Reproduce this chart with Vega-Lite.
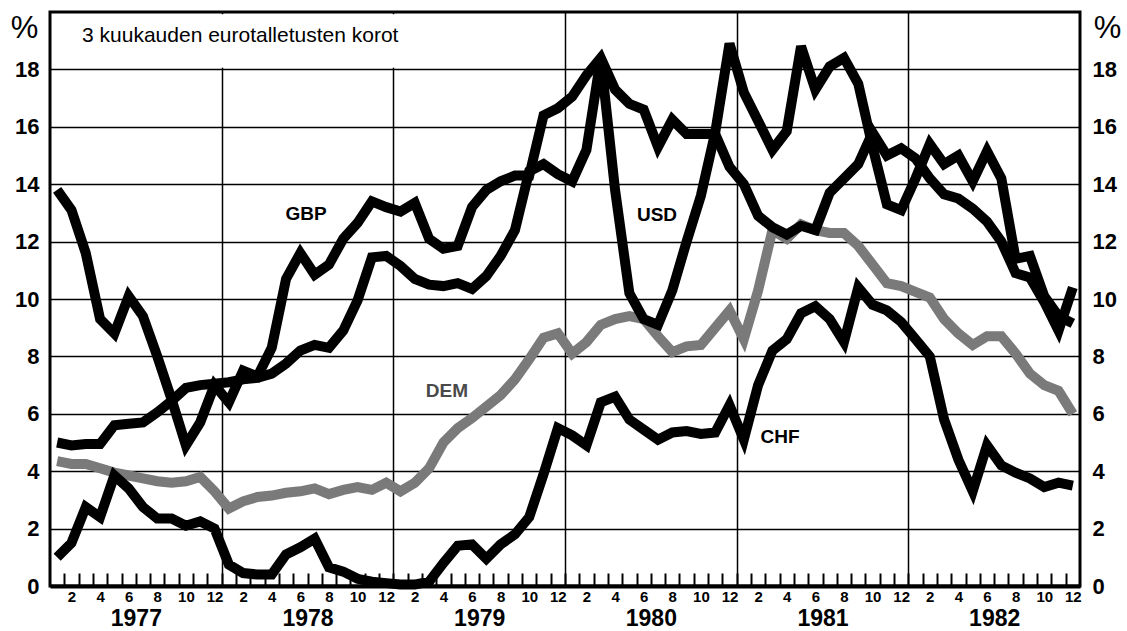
{
  "$schema": "https://vega.github.io/schema/vega-lite/v6.json",
  "autosize": {"type": "none"},
  "padding": {"left": 50, "top": 12, "right": 47, "bottom": 45},
  "width": 1030,
  "height": 574,
  "background": "white",
  "datasets": {
    "rates": [
      {"m":1,"USD":5.0,"GBP":13.8,"DEM":4.35,"CHF":1.0},
      {"m":2,"USD":4.9,"GBP":13.1,"DEM":4.25,"CHF":1.5},
      {"m":3,"USD":4.95,"GBP":11.6,"DEM":4.25,"CHF":2.75},
      {"m":4,"USD":4.95,"GBP":9.3,"DEM":4.1,"CHF":2.4},
      {"m":5,"USD":5.6,"GBP":8.8,"DEM":3.95,"CHF":3.85},
      {"m":6,"USD":5.65,"GBP":10.1,"DEM":3.85,"CHF":3.4},
      {"m":7,"USD":5.7,"GBP":9.4,"DEM":3.75,"CHF":2.75},
      {"m":8,"USD":6.05,"GBP":8.0,"DEM":3.65,"CHF":2.35},
      {"m":9,"USD":6.45,"GBP":6.5,"DEM":3.6,"CHF":2.35},
      {"m":10,"USD":6.9,"GBP":4.9,"DEM":3.65,"CHF":2.1},
      {"m":11,"USD":7.0,"GBP":5.7,"DEM":3.8,"CHF":2.25},
      {"m":12,"USD":7.05,"GBP":7.0,"DEM":3.3,"CHF":2.0},
      {"m":13,"USD":7.1,"GBP":6.4,"DEM":2.7,"CHF":0.75},
      {"m":14,"USD":7.2,"GBP":7.5,"DEM":2.95,"CHF":0.45},
      {"m":15,"USD":7.25,"GBP":7.3,"DEM":3.1,"CHF":0.4},
      {"m":16,"USD":7.4,"GBP":8.3,"DEM":3.15,"CHF":0.4},
      {"m":17,"USD":7.75,"GBP":10.7,"DEM":3.25,"CHF":1.1},
      {"m":18,"USD":8.2,"GBP":11.6,"DEM":3.3,"CHF":1.35},
      {"m":19,"USD":8.4,"GBP":10.85,"DEM":3.4,"CHF":1.65},
      {"m":20,"USD":8.3,"GBP":11.2,"DEM":3.2,"CHF":0.65},
      {"m":21,"USD":8.9,"GBP":12.1,"DEM":3.35,"CHF":0.5},
      {"m":22,"USD":9.95,"GBP":12.65,"DEM":3.45,"CHF":0.25},
      {"m":23,"USD":11.45,"GBP":13.4,"DEM":3.35,"CHF":0.15},
      {"m":24,"USD":11.5,"GBP":13.2,"DEM":3.6,"CHF":0.1},
      {"m":25,"USD":11.15,"GBP":13.05,"DEM":3.3,"CHF":0.05},
      {"m":26,"USD":10.7,"GBP":13.35,"DEM":3.6,"CHF":0.05},
      {"m":27,"USD":10.5,"GBP":12.1,"DEM":4.1,"CHF":0.15},
      {"m":28,"USD":10.45,"GBP":11.75,"DEM":5.0,"CHF":0.8},
      {"m":29,"USD":10.55,"GBP":11.85,"DEM":5.5,"CHF":1.4},
      {"m":30,"USD":10.35,"GBP":13.2,"DEM":5.85,"CHF":1.45},
      {"m":31,"USD":10.8,"GBP":13.8,"DEM":6.25,"CHF":0.95},
      {"m":32,"USD":11.5,"GBP":14.1,"DEM":6.65,"CHF":1.45},
      {"m":33,"USD":12.4,"GBP":14.3,"DEM":7.2,"CHF":1.8},
      {"m":34,"USD":14.45,"GBP":14.3,"DEM":7.9,"CHF":2.4},
      {"m":35,"USD":14.7,"GBP":16.4,"DEM":8.65,"CHF":3.9},
      {"m":36,"USD":14.35,"GBP":16.65,"DEM":8.8,"CHF":5.5},
      {"m":37,"USD":14.1,"GBP":17.05,"DEM":8.1,"CHF":5.25},
      {"m":38,"USD":15.2,"GBP":17.8,"DEM":8.5,"CHF":4.9},
      {"m":39,"USD":18.4,"GBP":18.4,"DEM":9.1,"CHF":6.4},
      {"m":40,"USD":13.8,"GBP":17.3,"DEM":9.3,"CHF":6.6},
      {"m":41,"USD":10.2,"GBP":16.8,"DEM":9.4,"CHF":5.8},
      {"m":42,"USD":9.3,"GBP":16.6,"DEM":9.3,"CHF":5.45},
      {"m":43,"USD":9.1,"GBP":15.3,"DEM":8.7,"CHF":5.1},
      {"m":44,"USD":10.3,"GBP":16.25,"DEM":8.15,"CHF":5.35},
      {"m":45,"USD":12.0,"GBP":15.75,"DEM":8.35,"CHF":5.4},
      {"m":46,"USD":13.6,"GBP":15.75,"DEM":8.4,"CHF":5.3},
      {"m":47,"USD":15.8,"GBP":15.75,"DEM":9.0,"CHF":5.35},
      {"m":48,"USD":18.9,"GBP":14.6,"DEM":9.6,"CHF":6.3},
      {"m":49,"USD":17.2,"GBP":14.0,"DEM":8.6,"CHF":5.1},
      {"m":50,"USD":16.2,"GBP":12.9,"DEM":10.3,"CHF":7.0},
      {"m":51,"USD":15.2,"GBP":12.5,"DEM":12.4,"CHF":8.2},
      {"m":52,"USD":15.85,"GBP":12.25,"DEM":12.1,"CHF":8.6},
      {"m":53,"USD":18.8,"GBP":12.55,"DEM":12.6,"CHF":9.5},
      {"m":54,"USD":17.3,"GBP":12.4,"DEM":12.4,"CHF":9.75},
      {"m":55,"USD":18.1,"GBP":13.7,"DEM":12.3,"CHF":9.3},
      {"m":56,"USD":18.4,"GBP":14.2,"DEM":12.3,"CHF":8.5},
      {"m":57,"USD":17.5,"GBP":14.7,"DEM":11.85,"CHF":10.4},
      {"m":58,"USD":15.3,"GBP":15.8,"DEM":11.2,"CHF":9.8},
      {"m":59,"USD":13.3,"GBP":15.0,"DEM":10.55,"CHF":9.6},
      {"m":60,"USD":13.1,"GBP":15.25,"DEM":10.45,"CHF":9.2},
      {"m":61,"USD":14.2,"GBP":14.9,"DEM":10.25,"CHF":8.6},
      {"m":62,"USD":15.4,"GBP":14.2,"DEM":10.05,"CHF":8.0},
      {"m":63,"USD":14.7,"GBP":13.65,"DEM":9.3,"CHF":5.8},
      {"m":64,"USD":15.0,"GBP":13.5,"DEM":8.8,"CHF":4.4},
      {"m":65,"USD":14.1,"GBP":13.15,"DEM":8.4,"CHF":3.3},
      {"m":66,"USD":15.15,"GBP":12.7,"DEM":8.7,"CHF":4.9},
      {"m":67,"USD":14.2,"GBP":12.0,"DEM":8.7,"CHF":4.2},
      {"m":68,"USD":11.4,"GBP":10.9,"DEM":8.1,"CHF":3.95},
      {"m":69,"USD":11.5,"GBP":10.75,"DEM":7.4,"CHF":3.75},
      {"m":70,"USD":10.1,"GBP":9.9,"DEM":7.0,"CHF":3.45},
      {"m":71,"USD":9.4,"GBP":8.9,"DEM":6.8,"CHF":3.6},
      {"m":72,"USD":9.15,"GBP":10.4,"DEM":6.0,"CHF":3.5}
    ],
    "labels": [
      {"cur":"GBP","m":18.4,"r":12.96},
      {"cur":"USD","m":42.93,"r":12.92},
      {"cur":"DEM","m":28.25,"r":6.8},
      {"cur":"CHF","m":51.53,"r":5.2}
    ]
  },
  "layer": [
    {
      "data": {"name": "rates"},
      "mark": {"type": "line", "color": "#7a7a7a", "strokeWidth": 10, "strokeJoin": "miter"},
      "encoding": {
        "x": {
          "field": "m", "type": "quantitative",
          "scale": {"domain": [0.5, 72.5], "nice": false, "zero": false},
          "axis": {
            "orient": "bottom",
            "title": null,
            "values": [1.5,2.5,3.5,4.5,5.5,6.5,7.5,8.5,9.5,10.5,11.5,12.5,13.5,14.5,15.5,16.5,17.5,18.5,19.5,20.5,21.5,22.5,23.5,24.5,25.5,26.5,27.5,28.5,29.5,30.5,31.5,32.5,33.5,34.5,35.5,36.5,37.5,38.5,39.5,40.5,41.5,42.5,43.5,44.5,45.5,46.5,47.5,48.5,49.5,50.5,51.5,52.5,53.5,54.5,55.5,56.5,57.5,58.5,59.5,60.5,61.5,62.5,63.5,64.5,65.5,66.5,67.5,68.5,69.5,70.5,71.5,72.5],
            "labelExpr": "((datum.value - 0.5) % 2 == 0) ? (((datum.value - 0.5) % 12 == 0) ? '12' : '' + ((datum.value - 0.5) % 12)) : ''",
            "labelOffset": -7.15,
            "labelPadding": 16,
            "labelFontSize": 15,
            "labelFontWeight": "bold",
            "labelOverlap": false,
            "labelFlush": false,
            "tickSize": -13,
            "tickWidth": 2,
            "tickColor": "black",
            "tickOpacity": {"condition": {"test": "datum.value < 72", "value": 1}, "value": 0},
            "grid": true,
            "gridColor": "black",
            "gridWidth": 1.5,
            "gridOpacity": {"condition": {"test": "((datum.value - 0.5) % 12 == 0) && datum.value < 72", "value": 1}, "value": 0},
            "domain": true,
            "domainColor": "black",
            "domainWidth": 4
          }
        },
        "y": {
          "field": "DEM", "type": "quantitative",
          "scale": {"domain": [0, 20], "nice": false, "zero": false},
          "axis": {
            "orient": "left",
            "values": [0,2,4,6,8,10,12,14,16,18],
            "grid": true,
            "gridColor": "black",
            "gridWidth": 1.5,
            "gridOpacity": 1,
            "ticks": false,
            "domain": false,
            "labelFontSize": 22,
            "labelFontWeight": "bold",
            "labelPadding": 11,
            "title": "%",
            "titleAngle": 0,
            "titleX": -26,
            "titleY": 16,
            "titleAlign": "center",
            "titleBaseline": "middle",
            "titleFontSize": 31,
            "titleFontWeight": "normal"
          }
        }
      }
    },
    {
      "data": {"name": "rates"},
      "transform": [{"fold": ["CHF", "GBP", "USD"], "as": ["cur", "r"]}],
      "mark": {"type": "line", "color": "black", "strokeWidth": 10, "strokeJoin": "miter"},
      "encoding": {
        "x": {"field": "m", "type": "quantitative", "scale": {"domain": [0.5, 72.5], "nice": false, "zero": false}, "axis": null},
        "y": {"field": "r", "type": "quantitative", "scale": {"domain": [0, 20], "nice": false, "zero": false}, "axis": null},
        "detail": {"field": "cur", "type": "nominal"}
      }
    },
    {
      "data": {"values": [{}]},
      "mark": {"type": "rect", "fill": "white"},
      "encoding": {
        "x": {"datum": 0.64, "type": "quantitative", "scale": {"domain": [0.5, 72.5], "nice": false, "zero": false}, "axis": null},
        "x2": {"datum": 30},
        "y": {"datum": 18.06, "type": "quantitative", "scale": {"domain": [0, 20], "nice": false, "zero": false}, "axis": null},
        "y2": {"datum": 19.92}
      }
    },
    {
      "data": {"values": [{}]},
      "mark": {"type": "text", "text": "3 kuukauden eurotalletusten korot", "align": "left", "baseline": "middle", "fontSize": 21, "font": "Liberation Sans", "color": "black"},
      "encoding": {
        "x": {"datum": 2.74, "type": "quantitative", "scale": {"domain": [0.5, 72.5], "nice": false, "zero": false}, "axis": null},
        "y": {"datum": 19.15, "type": "quantitative", "scale": {"domain": [0, 20], "nice": false, "zero": false}, "axis": null}
      }
    },
    {
      "data": {"name": "labels"},
      "mark": {"type": "text", "align": "center", "baseline": "middle", "fontSize": 19, "fontWeight": "bold", "font": "Liberation Sans"},
      "encoding": {
        "x": {
          "field": "m", "type": "quantitative",
          "scale": {"domain": [0.5, 72.5], "nice": false, "zero": false},
          "axis": {
            "orient": "bottom",
            "title": null,
            "values": [6.5, 18.5, 30.5, 42.5, 54.5, 66.5],
            "labelExpr": "'' + (1977 + floor(datum.value / 12))",
            "ticks": false,
            "domain": false,
            "grid": false,
            "labelPadding": 21,
            "labelFontSize": 23,
            "labelFontWeight": "bold",
            "labelFlush": false,
            "labelOverlap": false
          }
        },
        "y": {
          "field": "r", "type": "quantitative",
          "scale": {"domain": [0, 20], "nice": false, "zero": false},
          "axis": {
            "orient": "right",
            "values": [0,2,4,6,8,10,12,14,16,18],
            "grid": false,
            "ticks": false,
            "domain": false,
            "labelFontSize": 22,
            "labelFontWeight": "bold",
            "labelPadding": 12,
            "title": "%",
            "titleAngle": 0,
            "titleX": 27,
            "titleY": 16,
            "titleAlign": "center",
            "titleBaseline": "middle",
            "titleFontSize": 31,
            "titleFontWeight": "normal"
          }
        },
        "text": {"field": "cur", "type": "nominal"},
        "color": {"field": "cur", "type": "nominal", "scale": {"domain": ["DEM", "CHF", "GBP", "USD"], "range": ["#4a4a4a", "black", "black", "black"]}, "legend": null}
      }
    }
  ],
  "resolve": {"axis": {"x": "independent", "y": "independent"}},
  "config": {
    "view": {"stroke": "black", "strokeWidth": 3},
    "font": "Liberation Sans",
    "axis": {"labelFont": "Liberation Sans", "titleFont": "Liberation Sans", "labelColor": "black", "titleColor": "black"}
  }
}
